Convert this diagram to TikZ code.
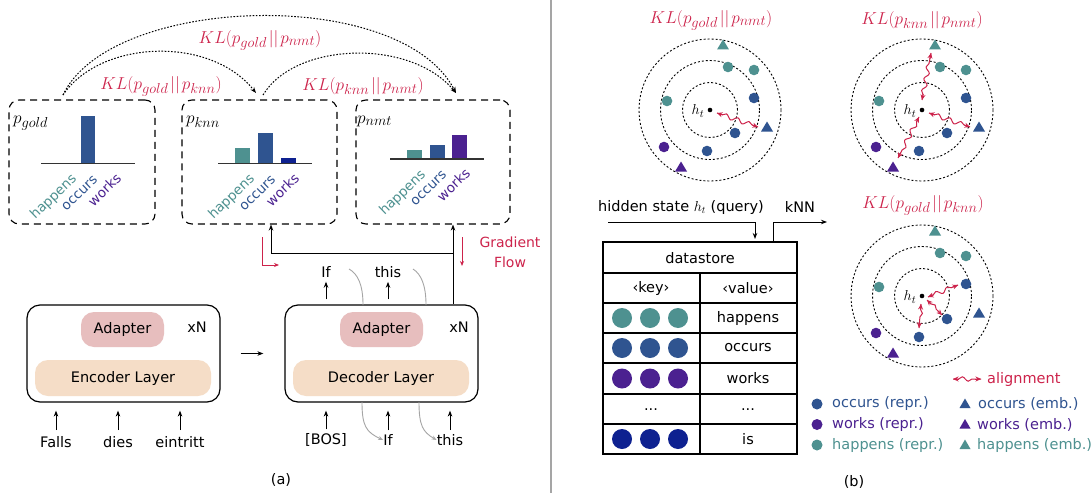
\documentclass[tikz,border=0pt]{standalone}
\usepackage{fontspec}
\setmainfont{DejaVu Sans}
\usetikzlibrary{arrows.meta,decorations.pathmorphing,shapes.geometric,calc}
\definecolor{kteal}{RGB}{78,145,144}
\definecolor{kblue}{RGB}{47,84,144}
\definecolor{kpurple}{RGB}{75,33,144}
\definecolor{knavy}{RGB}{14,33,144}
\definecolor{kred}{RGB}{205,35,75}
\definecolor{kpink}{RGB}{231,190,190}
\definecolor{kpeach}{RGB}{245,221,199}
\definecolor{kgray}{RGB}{165,165,165}
\newcommand\snarr[2]{%
  \draw[snk] (#1) -- (#2);
  \draw[stip] ($(#1)!6pt!(#2)$) -- (#1);
  \draw[stip] ($(#2)!6pt!(#1)$) -- (#2);}
\tikzset{
  txt/.style={font=\fontsize{14.5}{16}\selectfont, inner sep=0pt},
  klab/.style={text=kred, font=\fontsize{19}{22}\selectfont, inner sep=0pt},
  plab/.style={font=\fontsize{19}{22}\selectfont, inner sep=0pt},
  rlab/.style={font=\fontsize{13.5}{15}\selectfont, inner sep=0pt, rotate=44, anchor=north east},
  dbox/.style={draw, dash pattern=on 7pt off 5pt, line width=1.1pt, rounded corners=10pt},
  bbox/.style={draw, line width=1.2pt, rounded corners=13pt},
  adap/.style={fill=kpink, rounded corners=13pt, txt},
  layer/.style={fill=kpeach, rounded corners=13pt, txt},
  arr/.style={line width=1pt, -{Stealth[length=6pt,width=4.5pt]}},
  darr/.style={line width=1pt, dash pattern=on 1.6pt off 1.6pt, -{Stealth[length=6pt,width=4.5pt]}},
  garr/.style={kgray, line width=0.9pt, -{Stealth[length=5pt,width=4pt]}},
  rarr/.style={kred, line width=1pt, -{Stealth[length=5pt,width=4pt]}},
  ring/.style={line width=0.9pt, dash pattern=on 2pt off 2pt},
  snk/.style={kred, line width=1pt, decorate,
     decoration={snake, amplitude=2.2pt, segment length=12pt, pre length=5.5pt, post length=5.5pt}},
  stip/.style={kred, line width=1pt, -{Stealth[length=5.5pt,width=5pt]}},
  pics/emb/.style={code={
    \draw[ring] (0,0) circle[radius=27.5pt] (0,0) circle[radius=49.5pt] (0,0) circle[radius=71pt];
    \fill[kteal] (18,-43) circle[radius=5.3pt] (44,-40) circle[radius=5.3pt] (-43,-9) circle[radius=5.3pt];
    \fill[kblue] (44,-12) circle[radius=5.3pt] (25,23) circle[radius=5.3pt] (-3,41) circle[radius=5.3pt];
    \fill[kpurple] (-46,37) circle[radius=5.3pt];
    \fill[kteal] (13,-70.5) -- (19,-60.5) -- (7,-60.5) -- cycle;
    \fill[kblue] (57,11.5) -- (63,21.5) -- (51,21.5) -- cycle;
    \fill[kpurple] (-29,51.5) -- (-23,61.5) -- (-35,61.5) -- cycle;
    \fill (0,0) circle[radius=2.3pt];
    \node[font=\fontsize{15}{17}\selectfont, inner sep=0pt] (ht) at (-12,1) {$h_t$};
  }}
}
\begin{document}
\begin{tikzpicture}[x=1pt,y=-1pt]
\path[use as bounding box] (0,0) rectangle (1091,495);
\fill[white] (0,0) rectangle (1091,495);

% separator
\draw[kgray, line width=1.3pt] (551,0) -- (551,493);

%%%%%%%%%%%%%%%% (a) %%%%%%%%%%%%%%%%
\node[dbox, minimum width=146pt, minimum height=124pt] (gold) at (82,162) {};
\node[dbox, minimum width=155pt, minimum height=124pt] (knn) at (259.5,162) {};
\node[dbox, minimum width=154pt, minimum height=124pt] (nmt) at (433,162) {};
\node[plab, anchor=base west] (lgold) at (13,123) {$p_{gold}$};
\node[plab, anchor=base west] (lknn) at (186,123) {$p_{knn}$};
\node[plab, anchor=base west] (lnmt) at (357,123) {$p_{nmt}$};

% bars gold
\fill[kblue] (81,116) rectangle (95,163.5);
\draw[line width=1.3pt, black!80] (41,163.5) -- (135,163.5);
% bars knn
\fill[kteal] (235,148) rectangle (250,163.5);
\fill[kblue] (258,133) rectangle (273,163.5);
\fill[knavy] (281,158) rectangle (296,163.5);
\draw[line width=1.3pt, black!80] (218,163.5) -- (312,163.5);
% bars nmt
\fill[kteal] (407,150) rectangle (422,159);
\fill[kblue] (430,145) rectangle (445,159);
\fill[kpurple] (452,135) rectangle (467,159);
\draw[line width=1.3pt, black!80] (390,159) -- (484,159);

% rotated labels
\node[rlab, text=kteal] (h1) at (70,172) {happens};
\node[rlab, text=kblue] (o1) at (93,175) {occurs};
\node[rlab, text=kpurple] (w1) at (115,172) {works};
\node[rlab, text=kteal] (h2) at (248,172) {happens};
\node[rlab, text=kblue] (o2) at (271,175) {occurs};
\node[rlab, text=kpurple] (w2) at (293,172) {works};
\node[rlab, text=kteal] (h3) at (419,168) {happens};
\node[rlab, text=kblue] (o3) at (442,170) {occurs};
\node[rlab, text=kpurple] (w3) at (464,167) {works};

% KL arcs
\coordinate (s0) at (63,95);
\coordinate (e1) at (256,93);
\coordinate (s2) at (263,95);
\coordinate (e2) at (456,93);
\draw[darr] (s0) .. controls (110,-5) and (400,-15) .. (e2);
\draw[darr] (s0) .. controls (100,40) and (210,35) .. (e1);
\draw[darr] (s2) .. controls (295,42) and (410,38) .. (e2);
\node[klab] (kl1) at (260,40) {$KL(p_{gold}\mkern2mu||\mkern2mu p_{nmt})$};
\node[klab] (kl2) at (161,86) {$KL(p_{gold}\mkern2mu||\mkern2mu p_{knn})$};
\node[klab] (kl3) at (363,86) {$KL(p_{knn}\mkern2mu||\mkern2mu p_{nmt})$};

% encoder / decoder
\node[bbox, minimum width=193pt, minimum height=97pt] (enc) at (123.5,353.5) {};
\node[adap, minimum width=83pt, minimum height=35pt] (eadap) at (122.5,329.5) {Adapter};
\node[layer, minimum width=176pt, minimum height=36pt] (elay) at (123,378) {Encoder Layer};
\node[txt] (exn) at (197,327) {xN};
\node[bbox, minimum width=193pt, minimum height=97pt] (dec) at (381.5,353.5) {};
\node[adap, minimum width=83pt, minimum height=35pt] (dadap) at (381.5,329.5) {Adapter};
\node[layer, minimum width=176pt, minimum height=36pt] (dlay) at (381,378) {Decoder Layer};
\node[txt] (dxn) at (459,327) {xN};
\draw[arr, shorten <=20pt, shorten >=21pt] (enc.east) -- (dec.west);

% encoder inputs
\node[txt] (falls) at (56,442) {Falls};
\node[txt] (dies) at (118,442) {dies};
\node[txt] (eint) at (180,442) {eintritt};
\foreach \n in {falls,dies,eint}
  \draw[arr, shorten <=6pt, shorten >=8pt] (\n.north) -- (\n.north |- enc.south);

% decoder inputs
\node[txt] (bos) at (326,440) {[BOS]};
\node[txt] (if1) at (388,440) {If};
\node[txt] (this1) at (450,440) {this};
\foreach \n in {bos,if1,this1}
  \draw[arr, shorten <=4pt, shorten >=8pt] (\n.north) -- (\n.north |- dec.south);
\draw[garr] (362,402) .. controls (362,426) and (366,432) .. (if1.west);
\draw[garr] (419,402) .. controls (419,426) and (423,432) .. (this1.west);

% outputs
\node[txt] (if2) at (326,272) {If};
\node[txt] (this2) at (388,272) {this};
\draw[arr, shorten <=5pt, shorten >=4pt] (if2.south |- dec.north) -- (if2.south);
\draw[arr, shorten <=5pt, shorten >=4pt] (this2.south |- dec.north) -- (this2.south);
\draw[kgray, line width=0.9pt] (363,305) .. controls (363,285) and (358,274) .. (349,269);
\draw[kgray, line width=0.9pt] (426,305) .. controls (426,285) and (421,274) .. (413,269);

% gradient paths
\coordinate (g1) at (453,253);
\coordinate (g2) at (271,253);
\draw[line width=1pt] (dec.north -| g1) -- (g1) -- (g2);
\draw[arr] (g1) -- (nmt.south -| g1);
\draw[arr] (g2) -- (knn.south -| g2);
\coordinate (r1) at (262,237);
\coordinate (r2) at (262,265);
\coordinate (r3) at (279,265);
\draw[rarr] (r1) -- (r2) -- (r3);
\coordinate (r4) at (462,237);
\coordinate (r5) at (462,266);
\draw[rarr] (r4) -- (r5);
\node[txt, text=kred, align=center, font=\fontsize{14}{20}\selectfont] (gf) at (510,252) {Gradient\\Flow};

\node[txt] (capa) at (281,480) {(a)};

%%%%%%%%%%%%%%%% (b) %%%%%%%%%%%%%%%%
\node[klab] (kl4) at (711,20) {$KL(p_{gold}\mkern2mu||\mkern2mu p_{nmt})$};
\node[klab] (kl5) at (922,20) {$KL(p_{knn}\mkern2mu||\mkern2mu p_{nmt})$};
\node[klab] (kl6) at (923,205) {$KL(p_{gold}\mkern2mu||\mkern2mu p_{knn})$};

\pic (G1) at (710,110) {emb};
\pic (G2) at (922,110) {emb};
\pic (G3) at (922,296) {emb};
\snarr{717,113}{758,127}
\snarr{922,100}{931,53}
\snarr{929,113}{970,127}
\snarr{919,117}{898,158}
\snarr{928,297}{958,285}
\snarr{927,300}{942,315}
\snarr{921,304}{919,328}

% datastore table
\coordinate (ttop) at (700,242);
\draw[line width=1.2pt] (603,242) rectangle (797,454);
\foreach \y in {273,303,333,363,394,424} \draw[line width=1.2pt] (603,\y) -- (797,\y);
\draw[line width=1.2pt] (700,273) -- (700,454);
\node[txt] (ds) at (700,258) {datastore};
\node[txt] (key) at (651,288) {‹key›};
\node[txt] (val) at (748,288) {‹value›};
\node[txt] (v1) at (748,318) {happens};
\node[txt] (v2) at (748,348) {occurs};
\node[txt] (v3) at (748,378.5) {works};
\node[txt] (v4) at (748,410) {...};
\node[txt] (k4) at (651,410) {...};
\node[txt] (v5) at (748,439) {is};
\foreach \y/\c in {318/kteal,348/kblue,378.5/kpurple,439/knavy}
  \foreach \x in {622,650,678} \fill[\c] (\x,\y) circle[radius=10pt];

% query / kNN arrows
\node[txt] (hs) at (681,207) {hidden state $h_t$ (query)};
\node[txt] (knnl) at (800,207) {kNN};
\coordinate (q0) at (608,222);
\coordinate (q1) at (755,222);
\draw[arr, shorten >=3pt] (q0) -- (q1) -- (q1 |- ttop);
\coordinate (k1) at (773,222);
\coordinate (k2) at (827,222);
\draw[arr] (k1 |- ttop) -- (k1) -- (k2);

% legend
\snarr{953,379}{981,379}
\node[txt, anchor=west, text=kred] (al) at (987,379) {alignment};
\fill[kblue] (817,404) circle[radius=5.5pt];
\fill[kpurple] (817,424.5) circle[radius=5.5pt];
\fill[kteal] (817,445) circle[radius=5.5pt];
\node[txt, anchor=west, text=kblue] (l1) at (832,404) {occurs (repr.)};
\node[txt, anchor=west, text=kpurple] (l2) at (832,424.5) {works (repr.)};
\node[txt, anchor=west, text=kteal] (l3) at (832,445) {happens (repr.)};
\fill[kblue] (965,398.5) -- (970.5,408) -- (959.5,408) -- cycle;
\fill[kpurple] (965,419) -- (970.5,428.5) -- (959.5,428.5) -- cycle;
\fill[kteal] (965,439.5) -- (970.5,449) -- (959.5,449) -- cycle;
\node[txt, anchor=west, text=kblue] (l4) at (978,404) {occurs (emb.)};
\node[txt, anchor=west, text=kpurple] (l5) at (977,424.5) {works (emb.)};
\node[txt, anchor=west, text=kteal] (l6) at (977,445) {happens (emb.)};

\node[txt] (capb) at (854,482) {(b)};
\end{tikzpicture}
\end{document}
